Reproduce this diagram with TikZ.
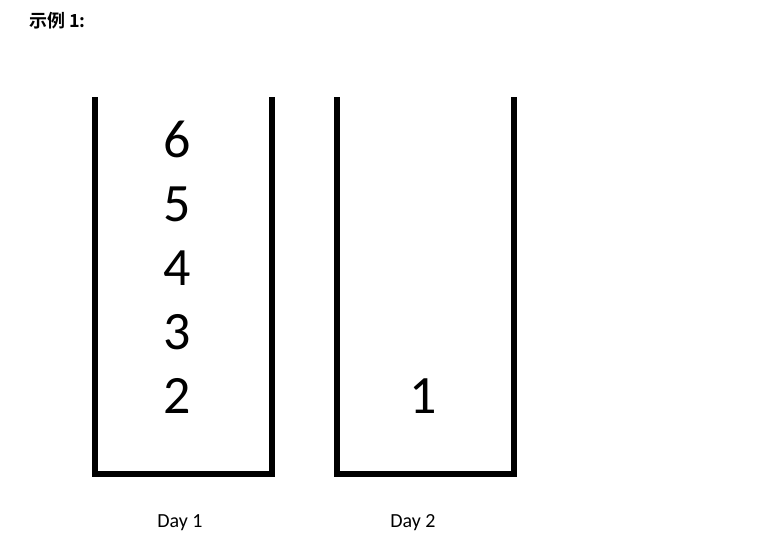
\documentclass[tikz,border=0pt]{standalone}
\usepackage{fontspec}
\setmainfont{Carlito}
\newfontfamily\cjkbold{Noto Sans CJK SC Bold}
\begin{document}
\begin{tikzpicture}[x=1pt,y=-1pt,
  cup/.style={draw=black,line width=6pt,line join=miter},
  num/.style={font=\fontsize{54}{60}\selectfont,inner sep=0pt,anchor=base},
  daylbl/.style={font=\fontsize{20}{24}\selectfont,inner sep=0pt,anchor=base},
  title/.style={font=\cjkbold\fontsize{18}{22}\selectfont,inner sep=0pt,anchor=base west}]
\fill[white] (0,0) rectangle (762,533);
\useasboundingbox (0,0) rectangle (762,533);
\node[title] (t) at (29,27) {示例 1:};
\draw[cup] (95,97) -- (95,474) -- (272,474) -- (272,97);
\draw[cup] (337,97) -- (337,474) -- (514,474) -- (514,97);
\node[num] (n6) at (177,157) {6};
\node[num] (n5) at (177,221) {5};
\node[num] (n4) at (177,285) {4};
\node[num] (n3) at (177,349) {3};
\node[num] (n2) at (177,413) {2};
\node[num] (n1) at (423,413) {1};
\node[daylbl] (d1) at (180,527) {Day 1};
\node[daylbl] (d2) at (413,527) {Day 2};
\end{tikzpicture}
\end{document}
